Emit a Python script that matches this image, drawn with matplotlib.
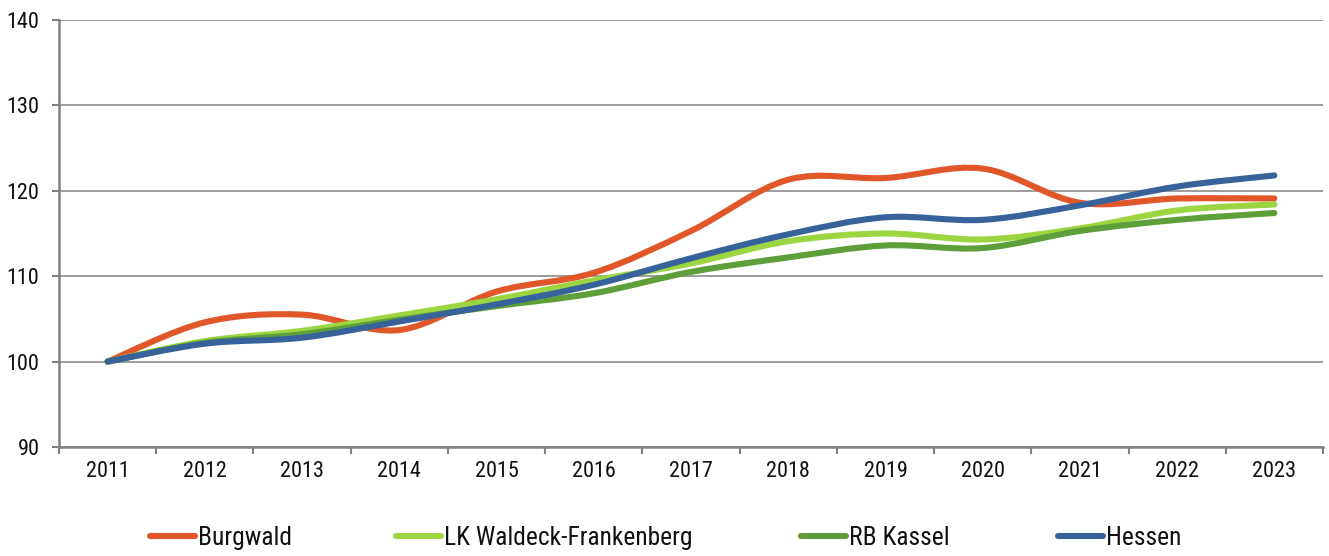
import matplotlib
matplotlib.use("Agg")
import matplotlib.pyplot as plt
from matplotlib.path import Path
from matplotlib.patches import PathPatch
from matplotlib.lines import Line2D
from matplotlib import font_manager
import numpy as np

years = [2011, 2012, 2013, 2014, 2015, 2016, 2017, 2018, 2019, 2020, 2021, 2022, 2023]
burgwald = [100.0, 104.6, 105.5, 103.7, 108.2, 110.4, 115.3, 121.3, 121.5, 122.6, 118.6, 119.1, 119.1]
lk_waldeck = [100.0, 102.4, 103.6, 105.4, 107.3, 109.5, 111.5, 114.1, 115.0, 114.3, 115.6, 117.7, 118.4]
rb_kassel = [100.0, 102.2, 103.2, 104.9, 106.5, 108.0, 110.5, 112.2, 113.6, 113.3, 115.3, 116.6, 117.4]
hessen = [100.0, 102.1, 102.8, 104.7, 106.7, 109.0, 112.1, 114.9, 116.9, 116.6, 118.3, 120.5, 121.8]

series_names = ["Burgwald", "LK Waldeck-Frankenberg", "RB Kassel", "Hessen"]
series_values = [burgwald, lk_waldeck, rb_kassel, hessen]
colors = ["#E0582A", "#9BD641", "#5E9F39", "#37639A"]

# pick a narrow font if one is installed
ttf = font_manager.fontManager.ttflist
names = {f.name for f in ttf}
stretch = "normal"
tick_fs, leg_fs = 13.0, 15.6
if "Liberation Sans Narrow" in names:
    fam = "Liberation Sans Narrow"
    tick_fs, leg_fs = 15.8, 19.0
elif "Roboto Condensed" in names:
    fam = "Roboto Condensed"
    tick_fs, leg_fs = 16.0, 18.4
elif any(f.name == "DejaVu Sans" and "Condensed" in f.fname and "Bold" not in f.fname
         and "Oblique" not in f.fname for f in ttf):
    fam = "DejaVu Sans"
    stretch = "condensed"
    tick_fs, leg_fs = 13.5, 16.5
else:
    fam = "Liberation Sans" if "Liberation Sans" in names else "DejaVu Sans"
plt.rcParams["font.family"] = [fam, "DejaVu Sans"]
plt.rcParams["font.stretch"] = stretch

W, H = 1329, 556
fig = plt.figure(figsize=(W / 100, H / 100), dpi=100)
ax = fig.add_axes([59 / W, 1 - 447 / H, (1323 - 59) / W, (447 - 20) / H])

x = np.arange(len(years), dtype=float)


def smooth_path(xs, ys):
    pts = np.column_stack([xs, ys])
    n = len(pts)
    verts = [pts[0]]
    codes = [Path.MOVETO]
    for i in range(n - 1):
        p0 = pts[i - 1] if i > 0 else pts[i]
        p1 = pts[i]
        p2 = pts[i + 1]
        p3 = pts[i + 2] if i + 2 < n else pts[i + 1]
        c1 = p1 + (p2 - p0) / 6.0
        c2 = p2 - (p3 - p1) / 6.0
        verts += [c1, c2, p2]
        codes += [Path.CURVE4] * 3
    return Path(verts, codes)


for vals, col in zip(series_values, colors):
    path = smooth_path(x, np.array(vals, dtype=float))
    patch = PathPatch(path, fill=False, edgecolor=col, linewidth=4.4,
                      capstyle="round", joinstyle="round", zorder=3)
    ax.add_patch(patch)

ax.set_xlim(-0.5, len(years) - 0.5)
ax.set_ylim(90, 140)
ax.set_yticks([90, 100, 110, 120, 130, 140])
ax.set_xticks(x)
ax.set_xticklabels([str(y) for y in years])
ax.set_xticks(np.arange(-0.5, len(years) + 0.5, 1.0), minor=True)
ax.tick_params(axis="x", which="major", length=0, pad=10, labelsize=tick_fs, labelcolor="#111111")
ax.tick_params(axis="x", which="minor", length=5, width=1.5, color="#808080", direction="out")
ax.tick_params(axis="y", which="major", length=5, width=1.5, color="#808080", pad=9,
               labelsize=tick_fs, labelcolor="#111111")

ax.yaxis.grid(True, color="#8c8c8c", linewidth=1.2)
ax.set_axisbelow(True)
for s in ["top", "right"]:
    ax.spines[s].set_visible(False)
for s in ["left", "bottom"]:
    ax.spines[s].set_color("#808080")
    ax.spines[s].set_linewidth(1.8)

handle_starts = [150, 396, 801, 1058]
for name, col, hx in zip(series_names, colors, handle_starts):
    h = Line2D([], [], color=col, linewidth=4.4, solid_capstyle="round")
    leg = fig.legend([h], [name], loc="center left",
                     bbox_to_anchor=(hx / W, 1 - 538 / H),
                     frameon=False, fontsize=leg_fs,
                     handlelength=45 / (leg_fs * 100 / 72),
                     handletextpad=0.1, borderpad=0, borderaxespad=0)
    for t in leg.get_texts():
        t.set_color("#111111")

fig.savefig("out.png", dpi=100)
